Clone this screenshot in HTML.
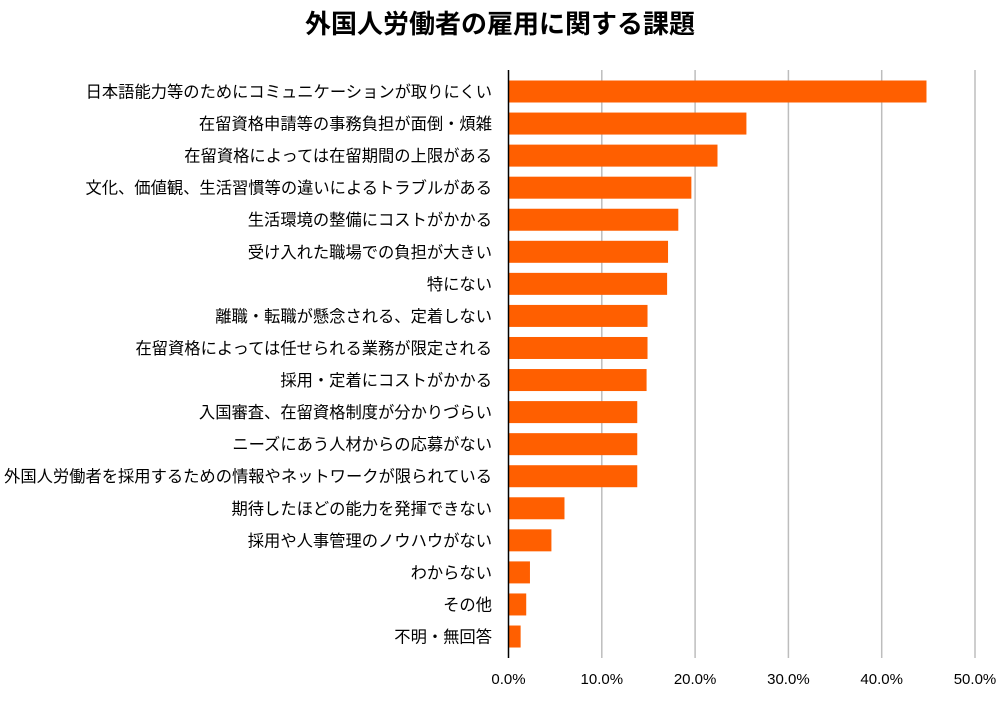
<!DOCTYPE html>
<html><head><meta charset="utf-8">
<style>
body{margin:0;background:#fff;font-family:"Liberation Sans","Noto Sans CJK JP",sans-serif;}
</style></head>
<body>
<svg id="chart" width="1000" height="698" xmlns="http://www.w3.org/2000/svg" font-family="Liberation Sans, Noto Sans CJK JP, sans-serif">
<text x="500" y="33" text-anchor="middle" font-size="26" font-weight="bold" fill="#000">外国人労働者の雇用に関する課題</text>
<g id="grid"></g><g id="bars"></g><g id="labels"></g><g id="ticks"></g>
<line x1="508.5" y1="70" x2="508.5" y2="658" stroke="#000" stroke-width="1.5"/>
</svg>
<script>
const categories=["日本語能力等のためにコミュニケーションが取りにくい","在留資格申請等の事務負担が面倒・煩雑","在留資格によっては在留期間の上限がある","文化、価値観、生活習慣等の違いによるトラブルがある","生活環境の整備にコストがかかる","受け入れた職場での負担が大きい","特にない","離職・転職が懸念される、定着しない","在留資格によっては任せられる業務が限定される","採用・定着にコストがかかる","入国審査、在留資格制度が分かりづらい","ニーズにあう人材からの応募がない","外国人労働者を採用するための情報やネットワークが限られている","期待したほどの能力を発揮できない","採用や人事管理のノウハウがない","わからない","その他","不明・無回答"];
const values=[44.8,25.5,22.4,19.6,18.2,17.1,17.0,14.9,14.9,14.8,13.8,13.8,13.8,6.0,4.6,2.3,1.9,1.3];
const tickValues=[0,10,20,30,40,50];
const tickLabels=["0.0%","10.0%","20.0%","30.0%","40.0%","50.0%"];
const NS="http://www.w3.org/2000/svg";
const x0=508.5,pxPer=9.33,top0=80.5,step=32.06,bh=22;
const xs=v=>x0+v*pxPer;
const ys=i=>top0+i*step;
function mk(t,a,p){const e=document.createElementNS(NS,t);for(const k in a)e.setAttribute(k,a[k]);p.appendChild(e);return e;}
const g=document.getElementById('grid'),b=document.getElementById('bars'),l=document.getElementById('labels'),tk=document.getElementById('ticks');
tickValues.forEach((v,i)=>{
 if(v>0){const ln=mk('line',{x1:xs(v),x2:xs(v),y1:70,y2:658,stroke:'#bdbdbd','stroke-width':1.5},g);
 
 }
 const t=mk('text',{x:xs(v),y:684,'text-anchor':'middle','font-size':15,fill:'#000'},tk);
 t.textContent=tickLabels[i];
 
 
});
categories.forEach((c,i)=>{
 const r=mk('rect',{x:x0,y:ys(i),width:values[i]*pxPer,height:bh,fill:'#ff5f00'},b);
 
 
 const t=mk('text',{x:492,y:ys(i)+bh/2+6,'text-anchor':'end','font-size':16.3,fill:'#000'},l);
 t.textContent=c;
 
 
});
</script>
</body></html>
